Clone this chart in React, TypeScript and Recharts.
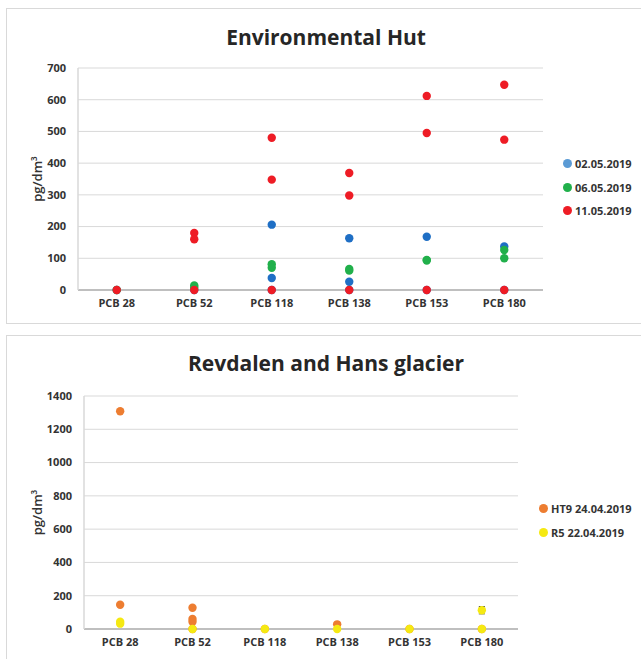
import { ScatterChart, Scatter, XAxis, YAxis, CartesianGrid, Legend, ErrorBar } from "recharts"

const categories = ["PCB 28", "PCB 52", "PCB 118", "PCB 138", "PCB 153", "PCB 180"]

// Environmental Hut, pg/dm3 per congener (replicates)
const hut0205 = [[0], [0], [206, 38, 0], [163, 26, 0], [168, 0], [137, 0]]
const hut0605 = [[0], [14, 8], [81, 70], [66, 61], [95, 93], [126, 100]]
const hut1105 = [[0], [180, 160, 0], [480, 348, 0], [369, 298, 0], [612, 495, 0], [647, 474, 0]]
const hutTicks = [0, 100, 200, 300, 400, 500, 600, 700]

// Revdalen and Hans glacier
const ht9 = [[1308, 146], [128, 60, 44, 0], [0], [28], [0], [0]]
const r5 = [[44, 32], [0], [0], [0], [0], [113, 0]]
const r5Err = [[0, 10], [0], [0], [0], [0], [22, 0]]
const glacierTicks = [0, 200, 400, 600, 800, 1000, 1200, 1400]

const FONT = "'Open Sans', sans-serif"
const TEXT = "#333333"

type Point = { x: number; y: number; err?: number }
type Series = { name: string; color: string; legendColor: string; data: Point[]; withErr?: boolean }

const toPoints = (vals: number[][], errs?: number[][]): Point[] =>
    vals.flatMap((v, i) => v.map((y, j) => ({ x: i + 0.5, y, err: errs ? errs[i][j] : 0 })))

const xTicks = categories.map((_, i) => i + 0.5)

interface PanelProps {
    top: number
    height: number
    margin: { top: number; right: number; bottom: number; left: number }
    yWidth: number
    xHeight: number
    ticks: number[]
    series: Series[]
    legendPos: { top: number; left: number }
}

function Panel({ top, height, margin, yWidth, xHeight, ticks, series, legendPos }: PanelProps) {
    const renderLegend = () => (
        <div>
            {series.map(s => (
                <div key={s.name} style={{ display: "flex", alignItems: "center", height: 23.5 }}>
                    <span style={{ flex: "0 0 9px", width: 9, height: 9, borderRadius: "50%", background: s.legendColor, marginRight: 3 }} />
                    <span style={{ fontFamily: FONT, fontSize: 11, fontWeight: 700, color: TEXT, whiteSpace: "nowrap" }}>{s.name}</span>
                </div>
            ))}
        </div>
    )

    const yLabel = (props: any) => {
        const vb = props.viewBox
        const cy = vb.y + vb.height / 2
        return (
            <text x={37} y={cy} transform={`rotate(-90, 37, ${cy})`} textAnchor="middle" dominantBaseline="central"
                fontFamily={FONT} fontSize={13} fontWeight={600} fill={TEXT}>
                pg/dm³
            </text>
        )
    }

    return (
        <div style={{ position: "absolute", left: 0, top, width: 641, height }}>
            <ScatterChart width={641} height={height} margin={margin}>
                <CartesianGrid vertical={false} stroke="#d9d9d9" />
                <XAxis dataKey="x" type="number" domain={[0, 6]} ticks={xTicks} interval={0} height={xHeight}
                    tickFormatter={v => categories[Math.round(v - 0.5)]} tickLine={false} tickSize={0} tickMargin={9}
                    axisLine={{ stroke: "#bfbfbf", strokeWidth: 2 }}
                    tick={{ fill: TEXT, fontSize: 11, fontWeight: 700, fontFamily: FONT }} />
                <YAxis dataKey="y" type="number" domain={[0, ticks[ticks.length - 1]]} ticks={ticks} interval={0} width={yWidth}
                    tickLine={false} tickSize={0} tickMargin={12} axisLine={{ stroke: "#d9d9d9", strokeWidth: 1.5 }}
                    tick={{ fill: TEXT, fontSize: 11, fontWeight: 700, fontFamily: FONT }} label={yLabel} />
                <Legend layout="vertical" align="center" verticalAlign="middle" content={renderLegend}
                    wrapperStyle={{ top: legendPos.top, left: legendPos.left, width: 100 }} />
                {series.map(s => (
                    <Scatter key={s.name} name={s.name} data={s.data} fill={s.color} isAnimationActive={false}
                        shape={(p: any) => <circle cx={p.cx} cy={p.cy} r={4.2} fill={s.color} />}>
                        {s.withErr && <ErrorBar dataKey="err" direction="y" width={3} stroke="#404040" strokeWidth={1} />}
                    </Scatter>
                ))}
            </ScatterChart>
        </div>
    )
}

const hutSeries: Series[] = [
    { name: "02.05.2019", color: "#1f6fc5", legendColor: "#5b9bd5", data: toPoints(hut0205) },
    { name: "06.05.2019", color: "#21b04b", legendColor: "#21b04b", data: toPoints(hut0605) },
    { name: "11.05.2019", color: "#ee1c25", legendColor: "#ee1c25", data: toPoints(hut1105) },
]

const glacierSeries: Series[] = [
    { name: "HT9 24.04.2019", color: "#ed7d31", legendColor: "#ed7d31", data: toPoints(ht9) },
    { name: "R5 22.04.2019", color: "#f5e912", legendColor: "#f5e912", data: toPoints(r5, r5Err), withErr: true },
]

const titleStyle: React.CSSProperties = {
    position: "absolute", left: 126, width: 400, textAlign: "center",
    fontFamily: FONT, fontSize: 21, fontWeight: 700, color: "#262626", lineHeight: "28px",
}

export default function App() {
    return (
        <div style={{ position: "relative", width: 641, height: 659, overflow: "hidden", background: "#fff" }}>
            <style>{"body{margin:0;overflow:hidden}"}</style>
            <div style={{ position: "absolute", left: 6, top: 8, width: 700, height: 314, border: "1px solid #d9d9d9" }} />
            <div style={{ position: "absolute", left: 6, top: 335, width: 700, height: 400, border: "1px solid #d9d9d9" }} />
            <div style={{ ...titleStyle, top: 23 }}>Environmental Hut</div>
            <div style={{ ...titleStyle, top: 349 }}>Revdalen and Hans glacier</div>
            <Panel top={0} height={323} margin={{ top: 68, right: 98, bottom: 3, left: 38 }} yWidth={40} xHeight={30}
                ticks={hutTicks} series={hutSeries} legendPos={{ top: 152, left: 563 }} />
            <Panel top={323} height={336} margin={{ top: 73, right: 123, bottom: 3, left: 40 }} yWidth={44} xHeight={27}
                ticks={glacierTicks} series={glacierSeries} legendPos={{ top: 174, left: 539 }} />
        </div>
    )
}
